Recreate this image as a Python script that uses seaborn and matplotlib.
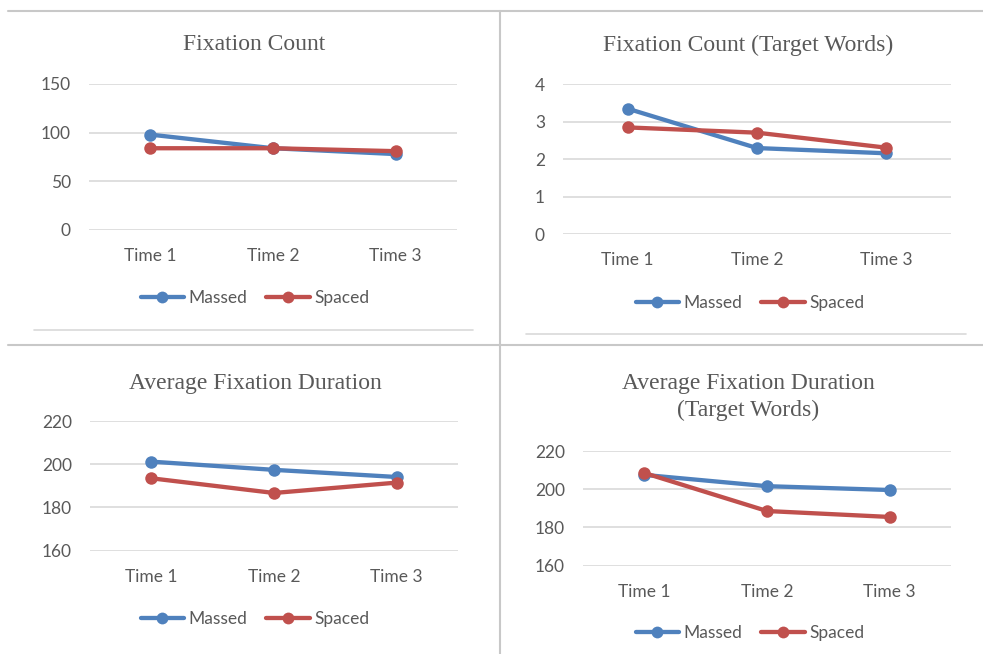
import matplotlib
matplotlib.use("Agg")
import matplotlib.pyplot as plt
import seaborn as sns
import pandas as pd
from matplotlib.lines import Line2D

# data
times = ["Time 1", "Time 2", "Time 3"]
groups = ["Massed", "Spaced"]

fix_count_massed = [98, 84, 78]
fix_count_spaced = [84, 84, 81]
fix_count_tw_massed = [3.35, 2.30, 2.16]
fix_count_tw_spaced = [2.85, 2.71, 2.31]
avg_dur_massed = [201.2, 197.4, 194.1]
avg_dur_spaced = [193.5, 186.7, 191.5]
avg_dur_tw_massed = [207.5, 201.6, 199.6]
avg_dur_tw_spaced = [208.5, 188.6, 185.5]

titles = ["Fixation Count", "Fixation Count (Target Words)",
          "Average Fixation Duration", "Average Fixation Duration\n(Target Words)"]
yticks = [[0, 50, 100, 150], [0, 1, 2, 3, 4], [160, 180, 200, 220], [160, 180, 200, 220]]

sns.set_style("white")
plt.rcParams["font.family"] = ["Lato", "DejaVu Sans"]

blue = "#4F81BD"
red = "#C0504D"
grey_txt = "#595959"
palette = {"Massed": blue, "Spaced": red}

W, H = 983, 654
fig = plt.figure(figsize=(W / 100, H / 100), dpi=100)


def px_axes(x0, y0, x1, y1):
    return fig.add_axes([x0 / W, 1 - y1 / H, (x1 - x0) / W, (y1 - y0) / H])


def hline(y, x0, x1, color, lw=1.5):
    fig.add_artist(Line2D([x0 / W, x1 / W], [1 - y / H, 1 - y / H],
                          transform=fig.transFigure, color=color, lw=lw))


def vline(x, y0, y1, color, lw=1.5):
    fig.add_artist(Line2D([x / W, x / W], [1 - y0 / H, 1 - y1 / H],
                          transform=fig.transFigure, color=color, lw=lw))


# pixel layout: axes box, title centre, legend centre
layout = [
    dict(box=(89, 84, 457, 230), title=(254, 45), legend=(255, 298)),
    dict(box=(563, 84.3, 951, 234.3), title=(748, 45), legend=(750, 303)),
    dict(box=(90, 421, 458, 550.7), title=(255, 383), legend=(255, 619)),
    dict(box=(583, 451, 951, 565.7), title=(748, 397), legend=(750, 633)),
]
series = [
    (fix_count_massed, fix_count_spaced),
    (fix_count_tw_massed, fix_count_tw_spaced),
    (avg_dur_massed, avg_dur_spaced),
    (avg_dur_tw_massed, avg_dur_tw_spaced),
]

for i in range(4):
    massed, spaced = series[i]
    df = pd.DataFrame({
        "time": times * 2,
        "group": ["Massed"] * 3 + ["Spaced"] * 3,
        "value": massed + spaced,
    })
    ax = px_axes(*layout[i]["box"])
    sns.lineplot(data=df, x="time", y="value", hue="group", hue_order=groups,
                 palette=palette, marker="o", markersize=8.5, markeredgewidth=0,
                 linewidth=3.1, sort=False, legend=False, ax=ax)
    yt = yticks[i]
    ax.set_ylim(yt[0], yt[-1])
    ax.set_yticks(yt)
    ax.set_xlim(-0.5, 2.5)
    ax.set_xlabel("")
    ax.set_ylabel("")
    ax.yaxis.grid(True, color="#D9D9D9", lw=1.2)
    ax.set_axisbelow(True)
    for s in ax.spines.values():
        s.set_visible(False)
    ax.tick_params(axis="both", length=0, labelsize=12.5, labelcolor=grey_txt)
    ax.tick_params(axis="x", pad=13)
    ax.tick_params(axis="y", pad=13)
    for line in ax.lines:
        line.set_clip_on(False)
        line.set_markersize(9)
        line.set_markeredgewidth(0)

    tx, ty = layout[i]["title"]
    fig.text(tx / W, 1 - ty / H, titles[i], ha="center", va="center",
             fontsize=17, color=grey_txt, family=["Liberation Serif", "DejaVu Serif"],
             linespacing=1.3)

    handles = [Line2D([], [], color=palette[g], lw=3.1, marker="o", markersize=8.5,
                      markeredgewidth=0) for g in groups]
    lx, ly = layout[i]["legend"]
    ax.legend(handles, groups, loc="center", bbox_to_anchor=(lx / W, 1 - ly / H),
              bbox_transform=fig.transFigure, ncol=2, frameon=False,
              fontsize=12.5, labelcolor=grey_txt, handlelength=2.5,
              handletextpad=0.25, columnspacing=1.1)

# table borders and chart frame edges
hline(11, 8, 983, "#C8C8C8")
hline(345, 8, 983, "#C8C8C8")
vline(500, 11, 654, "#C8C8C8")
hline(329.5, 34, 473, "#D9D9D9", lw=1.2)
hline(333.5, 526, 966, "#D9D9D9", lw=1.2)

fig.savefig("out.png", dpi=100, facecolor="white")
